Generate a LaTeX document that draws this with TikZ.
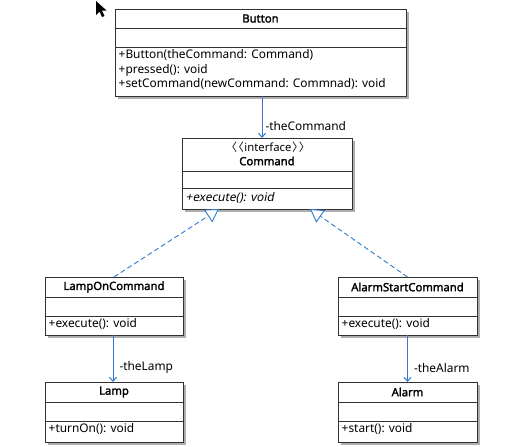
\documentclass[tikz,border=0pt]{standalone}
\usepackage{fontspec}
\setmainfont{Noto Sans}
\newfontfamily\boldf{Noto Sans}[FakeBold=2]
\newfontfamily\italf{Noto Sans}[FakeSlant=0.2]
\newfontfamily\cjkf{Noto Sans CJK SC}
\usetikzlibrary{arrows.meta,shadows,calc}
\definecolor{umlblue}{RGB}{46,123,207}
\definecolor{boxline}{RGB}{50,50,50}
\tikzset{
  x=1pt,y=-1pt,
  cls/.style={draw=boxline, line width=0.8pt, fill=white, inner sep=0pt, outer sep=0pt,
    anchor=north west, drop shadow={shadow xshift=2.5pt, shadow yshift=-2.5pt, fill=black!45, opacity=0.7}},
  divl/.style={draw=boxline, line width=0.8pt},
  ttl/.style={font=\boldf\fontsize{11.3}{13}\selectfont, inner sep=0pt},
  ops/.style={font=\fontsize{11.9}{14.8}\selectfont, inner sep=0pt, align=left, anchor=north west},
  lbl/.style={font=\fontsize{11.9}{13}\selectfont, inner sep=0pt, anchor=west},
  assoc/.style={draw=umlblue, line width=1pt, -{Straight Barb[length=4pt,width=7pt,line width=1pt]}},
  real/.style={draw=umlblue, line width=0.9pt, dash pattern=on 5pt off 3pt,
    -{Triangle[length=13pt,width=15pt,fill=white,line width=0.9pt,sep=0pt]}},
}
\begin{document}
\begin{tikzpicture}
\useasboundingbox[fill=white] (0,0) rectangle (523,447);
% cursor
\fill[black] (96,1) -- (96,15) -- (99.5,11.5) -- (102,17) -- (104.5,16) -- (102,10.5) -- (106.5,10.5) -- cycle;

% Button
\node[cls, minimum width=291pt, minimum height=87pt] (button) at (115,9) {};
\draw[divl] ([yshift=-19pt]button.north west) -- ([yshift=-19pt]button.north east);
\draw[divl] ([yshift=-38.5pt]button.north west) -- ([yshift=-38.5pt]button.north east);
\node[ttl] (buttonT) at (260.5,18.5) {Button};
\node[ops] (buttonO) at (118.5,49) {+Button(theCommand: Command)\\+pressed(): void\\+setCommand(newCommand: Commnad): void};

% Command
\node[cls, minimum width=170pt, minimum height=71pt] (cmd) at (182,138) {};
\draw[divl] ([yshift=-33pt]cmd.north west) -- ([yshift=-33pt]cmd.north east);
\draw[divl] ([yshift=-50pt]cmd.north west) -- ([yshift=-50pt]cmd.north east);
\node[lbl, anchor=center, font=\fontsize{11.3}{13}\selectfont] (cmdS) at (268,147) {{\cjkf 〈\kern-0.4em〈}\kern0.05em interface\kern0.05em{\cjkf 〉\kern-0.4em〉}};
\node[ttl] (cmdT) at (267,161) {Command};
\node[ops] (cmdO) at (185.5,192) {\italf +execute(): void};

% LampOnCommand
\node[cls, minimum width=138pt, minimum height=58pt] (lampon) at (45,277) {};
\draw[divl] ([yshift=-20pt]lampon.north west) -- ([yshift=-20pt]lampon.north east);
\draw[divl] ([yshift=-39pt]lampon.north west) -- ([yshift=-39pt]lampon.north east);
\node[ttl] (lamponT) at (114,287) {LampOnCommand};
\node[ops] (lamponO) at (48.5,318) {+execute(): void};

% AlarmStartCommand
\node[cls, minimum width=139pt, minimum height=58pt] (alarmsc) at (338,277) {};
\draw[divl] ([yshift=-20pt]alarmsc.north west) -- ([yshift=-20pt]alarmsc.north east);
\draw[divl] ([yshift=-39pt]alarmsc.north west) -- ([yshift=-39pt]alarmsc.north east);
\node[ttl] (alarmscT) at (407.5,287) {AlarmStartCommand};
\node[ops] (alarmscO) at (341.5,318) {+execute(): void};

% Lamp
\node[cls, minimum width=138pt, minimum height=60pt] (lamp) at (45,382) {};
\draw[divl] ([yshift=-20pt]lamp.north west) -- ([yshift=-20pt]lamp.north east);
\draw[divl] ([yshift=-39pt]lamp.north west) -- ([yshift=-39pt]lamp.north east);
\node[ttl] (lampT) at (114,392) {Lamp};
\node[ops] (lampO) at (48.5,423.5) {+turnOn(): void};

% Alarm
\node[cls, minimum width=139pt, minimum height=60pt] (alarm) at (338,382) {};
\draw[divl] ([yshift=-20pt]alarm.north west) -- ([yshift=-20pt]alarm.north east);
\draw[divl] ([yshift=-39pt]alarm.north west) -- ([yshift=-39pt]alarm.north east);
\node[ttl] (alarmT) at (407.5,392) {Alarm};
\node[ops] (alarmO) at (341.5,423.5) {+start(): void};

% associations
\draw[assoc] ([xshift=1.5pt]button.south) -- ([xshift=1.5pt]button.south |- cmd.north)
  node[lbl, pos=0.72, xshift=3pt] (lblCmd) {-theCommand};
\draw[assoc] ([xshift=-1pt]lampon.south) -- ([xshift=-1pt]lamp.north)
  node[lbl, pos=0.7, xshift=6pt] (lblLamp) {-theLamp};
\draw[assoc] (alarmsc.south) -- (alarm.north)
  node[lbl, pos=0.7, xshift=6pt] (lblAlarm) {-theAlarm};

% realizations
\draw[real] (lampon.north) -- ([xshift=37pt]cmd.south west);
\draw[real] (alarmsc.north) -- ([xshift=-42pt]cmd.south east);
\end{tikzpicture}
\end{document}
